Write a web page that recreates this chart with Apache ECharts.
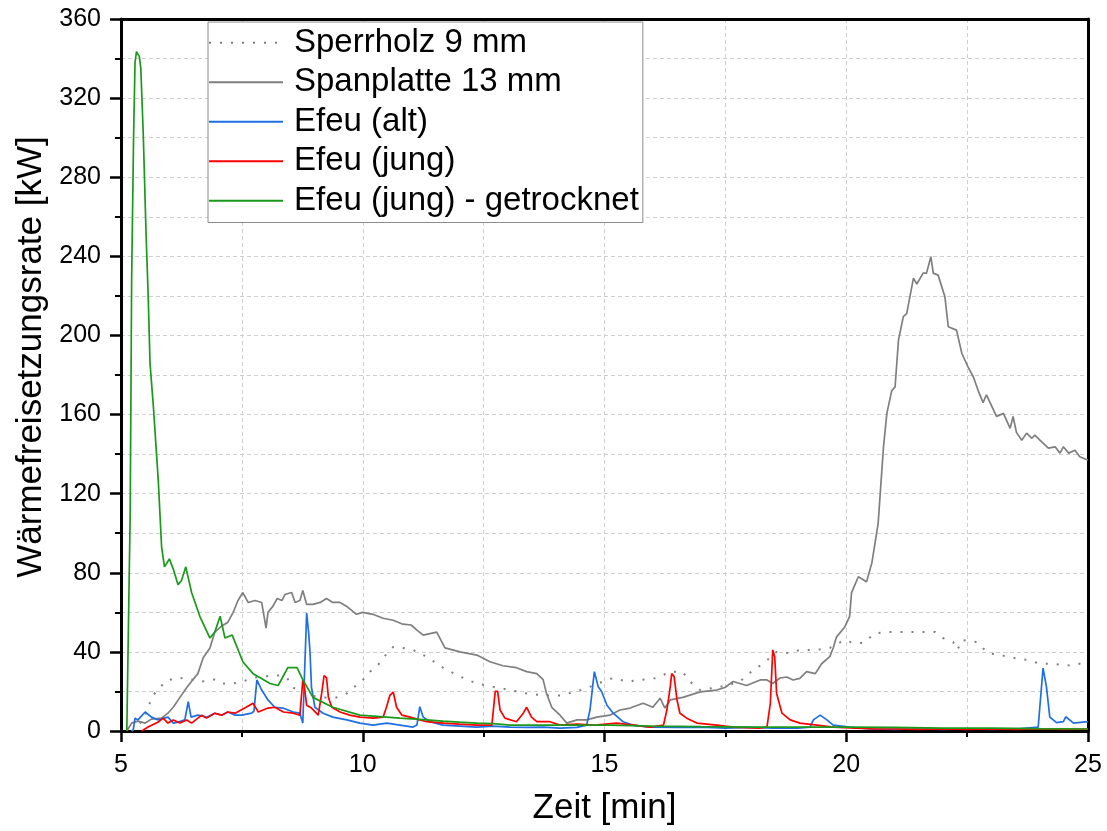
<!DOCTYPE html>
<html>
<head>
<meta charset="utf-8">
<script src="https://cdn.jsdelivr.net/npm/echarts@6/dist/echarts.min.js"></script>
<style>
html,body{margin:0;padding:0;background:#fff;}
#chart{width:1107px;height:831px;}
</style>
</head>
<body>
<div id="chart"></div>
<script>
// ---- data (time [min], heat release rate [kW]) ----
const seriesNames = ['Sperrholz 9 mm', 'Spanplatte 13 mm', 'Efeu (alt)', 'Efeu (jung)', 'Efeu (jung) - getrocknet'];
const xTicks = [5, 10, 15, 20, 25];
const yTicks = [0, 40, 80, 120, 160, 200, 240, 280, 320, 360];

const sperrholz = [[5.22,0],[5.29,1.5],[5.46,5.6],[5.56,12],[5.66,18],[5.81,22],[5.91,25],[6.15,27],[6.46,26],[6.67,25],[6.94,26],[7.08,24],[7.32,24],[7.50,25],[7.77,27],[8.12,28],[8.29,28],[8.43,27],[8.56,22],[8.70,20],[8.91,18],[9.18,17],[9.46,17],[9.67,19],[9.80,22],[9.94,24],[10.15,30],[10.29,32.5],[10.46,38],[10.63,42.5],[10.83,42],[11.04,41],[11.32,37.6],[11.66,32],[12.01,27.5],[12.36,24],[12.69,22.4],[13.05,20.7],[13.39,19],[13.73,18],[14.08,18],[14.43,20],[14.70,22.4],[14.97,25],[15.18,26.8],[15.46,25],[15.73,25.8],[16.08,26.8],[16.36,30],[16.62,30],[16.73,25.8],[16.98,20.7],[17.24,21.7],[17.53,23],[17.80,25],[18.07,30.8],[18.28,34],[18.56,40],[18.84,39.4],[19.04,41],[19.39,41],[19.66,42],[19.97,46],[20.14,44.5],[20.35,44.5],[20.60,49.5],[20.91,50],[21.25,50],[21.59,50],[21.84,50],[22.0,47],[22.21,45],[22.30,41],[22.39,46],[22.70,45],[22.93,39.4],[23.18,38.4],[23.45,37],[23.73,36],[24.01,34],[24.28,34],[24.56,33],[24.83,34],[25,33.5]];

const spanplatte = [[5.12,0],[5.22,4],[5.35,5],[5.50,4],[5.63,6],[5.84,6.5],[5.97,9],[6.08,12],[6.22,17],[6.36,22],[6.49,26],[6.59,29],[6.70,37],[6.84,42],[6.94,50],[7.08,53],[7.21,55],[7.32,60],[7.42,66],[7.52,70],[7.63,65],[7.77,66],[7.91,65],[8.0,52],[8.04,60],[8.14,63],[8.23,67],[8.33,66],[8.39,69],[8.53,70],[8.60,65],[8.70,66],[8.76,71],[8.84,64],[8.97,64],[9.12,65],[9.25,67],[9.38,65],[9.53,65],[9.67,63],[9.87,59],[10.0,60],[10.21,59],[10.42,57],[10.63,56],[10.83,54],[11.0,53.6],[11.12,51],[11.25,48.5],[11.53,50],[11.70,42],[12.01,40],[12.36,38.4],[12.63,35],[12.90,33],[13.18,32],[13.39,30],[13.60,29],[13.73,26],[13.80,19],[13.91,12],[14.08,8],[14.22,4],[14.43,5.6],[14.63,5.6],[14.84,7],[15.11,8],[15.32,10.6],[15.53,11.6],[15.80,14],[16.00,12],[16.15,16.6],[16.25,11.6],[16.36,15.7],[16.62,17],[16.98,19.8],[17.32,20.7],[17.49,22],[17.66,25],[17.94,23],[18.22,25.8],[18.36,25.8],[18.48,24],[18.63,26.8],[18.77,27.3],[18.90,25.8],[19.04,26.6],[19.18,30],[19.36,29],[19.49,34],[19.66,37.6],[19.73,42],[19.80,47.6],[19.97,52.6],[20.07,58],[20.11,70],[20.25,78],[20.42,75.5],[20.53,85],[20.66,105],[20.77,143.6],[20.84,160.6],[20.94,172],[21.01,174],[21.08,197.6],[21.18,209.5],[21.25,211],[21.39,229],[21.46,226],[21.59,231.5],[21.66,231.5],[21.75,239.8],[21.80,231.5],[21.90,230.5],[22.04,219.6],[22.11,204.4],[22.28,202.7],[22.39,191],[22.52,184],[22.63,179],[22.73,172],[22.83,166],[22.90,170],[23.11,159],[23.25,160.6],[23.39,153],[23.45,159],[23.52,151],[23.63,147],[23.73,150.6],[23.84,148],[23.90,149.6],[24.01,147],[24.18,143],[24.32,143.7],[24.42,140.5],[24.49,143.7],[24.60,140.5],[24.73,142],[24.83,138.7],[24.94,137.5],[25,137]];

const efeuAlt = [[5.25,0],[5.29,6.5],[5.35,5.6],[5.50,9.6],[5.63,7],[5.77,5.6],[5.97,7],[6.08,4],[6.18,4.5],[6.32,5.6],[6.39,14.8],[6.45,7],[6.59,8],[6.77,7],[6.94,9],[7.08,8],[7.21,9.6],[7.36,8],[7.50,8],[7.70,9],[7.75,10],[7.81,25.8],[7.91,20.7],[8.04,15.7],[8.18,12],[8.35,11.6],[8.56,9.6],[8.70,9],[8.76,4],[8.79,3],[8.84,59.6],[8.88,50],[8.91,39.4],[8.94,22],[9.01,12],[9.18,9],[9.38,7],[9.67,5.6],[9.94,4],[10.21,3],[10.50,4],[10.77,3],[11.04,2],[11.12,3],[11.18,12.3],[11.25,7],[11.39,4.7],[11.66,3],[12.01,2.5],[12.36,2],[12.69,2.5],[13.05,2],[13.39,1.8],[13.73,2],[14.08,1.5],[14.43,1.8],[14.63,3],[14.70,10.6],[14.79,30],[14.87,22.4],[14.94,20],[15.05,13],[15.18,9],[15.38,4.7],[15.59,3],[15.94,2],[16.5,1.8],[17.0,2],[17.5,1.5],[18.0,1.8],[18.5,1.5],[19.0,1.5],[19.25,2],[19.32,5.6],[19.46,8],[19.60,5.6],[19.73,3],[20.07,2],[20.5,1],[21,0.8],[21.5,1],[22,0.8],[22.5,1],[23,0.8],[23.5,1],[23.97,2],[24.07,31.8],[24.14,22.4],[24.21,7],[24.35,4.2],[24.49,4.7],[24.54,7.2],[24.70,4],[24.94,4.6],[25,4.6]];

const efeuJung = [[5.43,0],[5.56,2],[5.77,4.5],[5.87,6.5],[5.97,4],[6.08,5.6],[6.22,4],[6.36,5.6],[6.46,4],[6.67,8],[6.77,6.5],[6.94,9],[7.08,8],[7.21,9.6],[7.36,9],[7.56,11.6],[7.73,14],[7.84,9.6],[8.04,11.6],[8.18,12],[8.36,9.6],[8.56,9],[8.70,8],[8.76,25.8],[8.79,23],[8.84,13],[8.94,11.6],[9.08,8],[9.15,19],[9.20,28],[9.25,27],[9.29,17],[9.36,12],[9.53,9.6],[9.73,8],[9.94,7],[10.22,6.5],[10.42,7],[10.49,12],[10.56,18],[10.63,19.7],[10.70,12],[10.81,8],[10.98,7],[11.18,5.6],[11.32,4.7],[11.67,4],[12.0,3.5],[12.36,3],[12.67,3],[12.74,20],[12.79,20],[12.84,10.6],[12.94,6.5],[13.18,4.7],[13.32,9],[13.39,12],[13.49,7],[13.60,4.7],[13.87,4.7],[14.08,3],[14.43,3.5],[14.8,3],[15.25,4],[15.60,3],[15.94,2],[16.22,3],[16.29,10.6],[16.36,22.4],[16.39,29],[16.44,27.5],[16.50,15.7],[16.56,9],[16.70,6.5],[16.91,4],[17.32,3],[17.66,2],[18.22,1.5],[18.36,2],[18.43,14],[18.48,41],[18.52,37.6],[18.56,19],[18.67,9],[18.84,5.6],[19.04,4],[19.39,3],[19.73,2],[20.2,1.5],[20.6,1],[21,1],[21.5,0.8],[22,1],[22.5,0.8],[23,1],[23.5,0.8],[24,1],[24.5,0.8],[25,1]];

const efeuGetrocknet = [[5.12,0],[5.19,110],[5.22,228],[5.26,300],[5.29,338],[5.32,343.5],[5.38,341],[5.41,335],[5.46,302],[5.52,250],[5.56,222],[5.60,186],[5.67,164],[5.77,127],[5.84,93],[5.90,83],[6.0,87],[6.08,82],[6.18,74],[6.25,76],[6.34,83],[6.46,70],[6.63,58],[6.84,47],[6.94,50],[7.05,58],[7.15,47],[7.30,48.5],[7.52,35],[7.73,29],[7.87,27],[8.08,24],[8.25,23],[8.45,32],[8.64,32],[8.76,26],[8.97,17],[9.38,12],[9.94,8],[10.77,6.5],[11.32,5.6],[11.66,5],[12.0,4.5],[12.36,4],[12.7,3.7],[13.05,3],[14,3],[15.1,3],[16,2.5],[17,2.2],[18,2],[19,2],[20,2],[21,1.8],[22,1.5],[23,1.5],[24,1.2],[25,1]];

const seriesData = [sperrholz, spanplatte, efeuAlt, efeuJung, efeuGetrocknet];
const seriesColors = ['#7f7f7f', '#7f7f7f', '#1e6fe6', '#ff0000', '#1a9a1a'];
const seriesDash = [[2, 9], 'solid', 'solid', 'solid', 'solid'];

const FONT = 'Liberation Sans, Arial, sans-serif';
const gridLine = { show: true, lineStyle: { color: '#cfcfcf', width: 1, type: [4, 3] } };

const chart = echarts.init(document.getElementById('chart'), null, { renderer: 'canvas' });
chart.setOption({
  animation: false,
  backgroundColor: '#fff',
  grid: { left: 121, right: 19, top: 19, bottom: 100, containLabel: false },
  legend: {
    orient: 'vertical', left: 208, top: 22,
    itemWidth: 74, itemHeight: 20, itemGap: 0,
    padding: [1, 4, 2, 0],
    borderColor: '#8c8c8c', borderWidth: 1, backgroundColor: '#fff',
    itemStyle: { opacity: 0, borderWidth: 0 },
    textStyle: { fontSize: 33, lineHeight: 39.5, color: '#000', fontFamily: FONT, padding: [0, 0, 0, 6] },
    data: seriesNames
  },
  xAxis: [{
    type: 'value', min: xTicks[0], max: xTicks[xTicks.length - 1], interval: 5,
    name: 'Zeit [min]', nameLocation: 'middle', nameGap: 60,
    nameTextStyle: { fontSize: 35, color: '#000', fontFamily: FONT },
    axisLine: { show: true, onZero: false, lineStyle: { color: '#000', width: 3 } },
    axisTick: { show: true, inside: false, length: 11, lineStyle: { color: '#000', width: 2.5 } },
    minorTick: { show: true, splitNumber: 2, length: 6, lineStyle: { color: '#000', width: 2 } },
    axisLabel: { fontSize: 25, color: '#000', fontFamily: FONT, margin: 22 },
    splitLine: gridLine,
    minorSplitLine: gridLine
  }, {
    type: 'value', position: 'top', min: xTicks[0], max: xTicks[xTicks.length - 1],
    axisLine: { show: true, onZero: false, lineStyle: { color: '#000', width: 3 } },
    axisTick: { show: false }, axisLabel: { show: false }, splitLine: { show: false }
  }],
  yAxis: [{
    type: 'value', min: yTicks[0], max: yTicks[yTicks.length - 1], interval: 40,
    name: 'Wärmefreisetzungsrate [kW]', nameLocation: 'middle', nameGap: 70,
    nameTextStyle: { fontSize: 35, color: '#000', fontFamily: FONT, padding: [0, 0, 0, 36] },
    axisLine: { show: true, onZero: false, lineStyle: { color: '#000', width: 3 } },
    axisTick: { show: true, inside: false, length: 11, lineStyle: { color: '#000', width: 2.5 } },
    minorTick: { show: true, splitNumber: 2, length: 6, lineStyle: { color: '#000', width: 2 } },
    axisLabel: { fontSize: 25, color: '#000', fontFamily: FONT, margin: 20 },
    splitLine: gridLine,
    minorSplitLine: gridLine
  }, {
    type: 'value', position: 'right', min: yTicks[0], max: yTicks[yTicks.length - 1],
    axisLine: { show: true, onZero: false, lineStyle: { color: '#000', width: 3 } },
    axisTick: { show: false }, axisLabel: { show: false }, splitLine: { show: false }
  }],
  series: seriesNames.map((name, i) => ({
    name: name, type: 'line', data: seriesData[i],
    xAxisIndex: 0, yAxisIndex: 0,
    symbol: 'none', showSymbol: false, smooth: false,
    lineStyle: { color: seriesColors[i], width: i === 0 ? 2 : 1.7, type: seriesDash[i] },
    itemStyle: { color: seriesColors[i] },
    z: 2 + i
  }))
});
</script>
</body>
</html>
